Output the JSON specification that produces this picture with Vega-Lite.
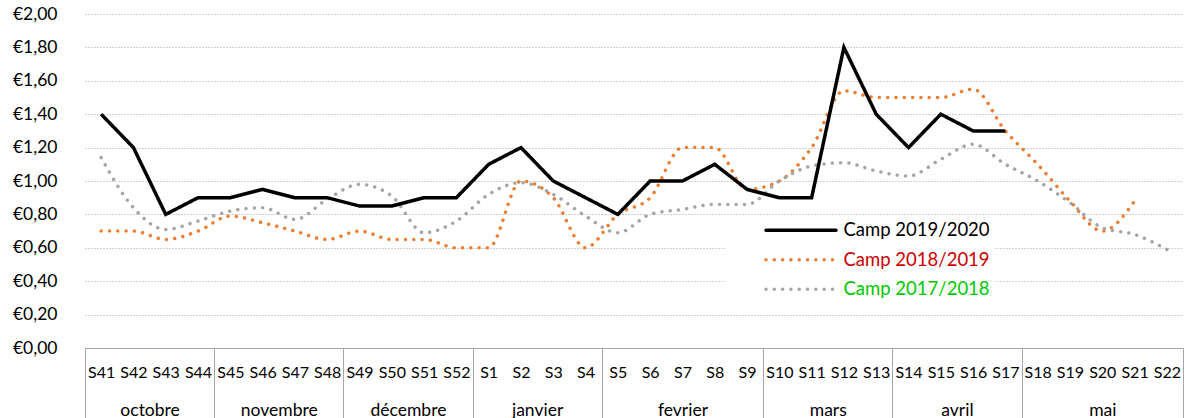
{
  "$schema": "https://vega.github.io/schema/vega-lite/v6.json",
  "width": 1098,
  "height": 334,
  "autosize": {"type": "none"},
  "padding": {"left": 85, "top": 14, "right": 2, "bottom": 70},
  "background": "white",
  "config": {"view": {"stroke": null}, "font": "Lato"},
  "data": {"values": [
    {"idx":0,"week":"S41","series":"Camp 2019/2020","value":1.40},
    {"idx":1,"week":"S42","series":"Camp 2019/2020","value":1.20},
    {"idx":2,"week":"S43","series":"Camp 2019/2020","value":0.80},
    {"idx":3,"week":"S44","series":"Camp 2019/2020","value":0.90},
    {"idx":4,"week":"S45","series":"Camp 2019/2020","value":0.90},
    {"idx":5,"week":"S46","series":"Camp 2019/2020","value":0.95},
    {"idx":6,"week":"S47","series":"Camp 2019/2020","value":0.90},
    {"idx":7,"week":"S48","series":"Camp 2019/2020","value":0.90},
    {"idx":8,"week":"S49","series":"Camp 2019/2020","value":0.85},
    {"idx":9,"week":"S50","series":"Camp 2019/2020","value":0.85},
    {"idx":10,"week":"S51","series":"Camp 2019/2020","value":0.90},
    {"idx":11,"week":"S52","series":"Camp 2019/2020","value":0.90},
    {"idx":12,"week":"S1","series":"Camp 2019/2020","value":1.10},
    {"idx":13,"week":"S2","series":"Camp 2019/2020","value":1.20},
    {"idx":14,"week":"S3","series":"Camp 2019/2020","value":1.00},
    {"idx":15,"week":"S4","series":"Camp 2019/2020","value":0.90},
    {"idx":16,"week":"S5","series":"Camp 2019/2020","value":0.80},
    {"idx":17,"week":"S6","series":"Camp 2019/2020","value":1.00},
    {"idx":18,"week":"S7","series":"Camp 2019/2020","value":1.00},
    {"idx":19,"week":"S8","series":"Camp 2019/2020","value":1.10},
    {"idx":20,"week":"S9","series":"Camp 2019/2020","value":0.95},
    {"idx":21,"week":"S10","series":"Camp 2019/2020","value":0.90},
    {"idx":22,"week":"S11","series":"Camp 2019/2020","value":0.90},
    {"idx":23,"week":"S12","series":"Camp 2019/2020","value":1.80},
    {"idx":24,"week":"S13","series":"Camp 2019/2020","value":1.40},
    {"idx":25,"week":"S14","series":"Camp 2019/2020","value":1.20},
    {"idx":26,"week":"S15","series":"Camp 2019/2020","value":1.40},
    {"idx":27,"week":"S16","series":"Camp 2019/2020","value":1.30},
    {"idx":28,"week":"S17","series":"Camp 2019/2020","value":1.30},

    {"idx":0,"week":"S41","series":"Camp 2018/2019","value":0.70},
    {"idx":1,"week":"S42","series":"Camp 2018/2019","value":0.70},
    {"idx":2,"week":"S43","series":"Camp 2018/2019","value":0.65},
    {"idx":3,"week":"S44","series":"Camp 2018/2019","value":0.70},
    {"idx":4,"week":"S45","series":"Camp 2018/2019","value":0.79},
    {"idx":5,"week":"S46","series":"Camp 2018/2019","value":0.75},
    {"idx":6,"week":"S47","series":"Camp 2018/2019","value":0.70},
    {"idx":7,"week":"S48","series":"Camp 2018/2019","value":0.65},
    {"idx":8,"week":"S49","series":"Camp 2018/2019","value":0.70},
    {"idx":9,"week":"S50","series":"Camp 2018/2019","value":0.65},
    {"idx":10,"week":"S51","series":"Camp 2018/2019","value":0.65},
    {"idx":11,"week":"S52","series":"Camp 2018/2019","value":0.60},
    {"idx":12,"week":"S1","series":"Camp 2018/2019","value":0.60},
    {"idx":13,"week":"S2","series":"Camp 2018/2019","value":1.00},
    {"idx":14,"week":"S3","series":"Camp 2018/2019","value":0.90},
    {"idx":15,"week":"S4","series":"Camp 2018/2019","value":0.60},
    {"idx":16,"week":"S5","series":"Camp 2018/2019","value":0.80},
    {"idx":17,"week":"S6","series":"Camp 2018/2019","value":0.90},
    {"idx":18,"week":"S7","series":"Camp 2018/2019","value":1.20},
    {"idx":19,"week":"S8","series":"Camp 2018/2019","value":1.20},
    {"idx":20,"week":"S9","series":"Camp 2018/2019","value":0.95},
    {"idx":21,"week":"S10","series":"Camp 2018/2019","value":1.00},
    {"idx":22,"week":"S11","series":"Camp 2018/2019","value":1.20},
    {"idx":23,"week":"S12","series":"Camp 2018/2019","value":1.54},
    {"idx":24,"week":"S13","series":"Camp 2018/2019","value":1.50},
    {"idx":25,"week":"S14","series":"Camp 2018/2019","value":1.50},
    {"idx":26,"week":"S15","series":"Camp 2018/2019","value":1.50},
    {"idx":27,"week":"S16","series":"Camp 2018/2019","value":1.55},
    {"idx":28,"week":"S17","series":"Camp 2018/2019","value":1.30},
    {"idx":29,"week":"S18","series":"Camp 2018/2019","value":1.10},
    {"idx":30,"week":"S19","series":"Camp 2018/2019","value":0.88},
    {"idx":31,"week":"S20","series":"Camp 2018/2019","value":0.70},
    {"idx":32,"week":"S21","series":"Camp 2018/2019","value":0.88},

    {"idx":0,"week":"S41","series":"Camp 2017/2018","value":1.14},
    {"idx":1,"week":"S42","series":"Camp 2017/2018","value":0.84},
    {"idx":2,"week":"S43","series":"Camp 2017/2018","value":0.71},
    {"idx":3,"week":"S44","series":"Camp 2017/2018","value":0.76},
    {"idx":4,"week":"S45","series":"Camp 2017/2018","value":0.82},
    {"idx":5,"week":"S46","series":"Camp 2017/2018","value":0.84},
    {"idx":6,"week":"S47","series":"Camp 2017/2018","value":0.77},
    {"idx":7,"week":"S48","series":"Camp 2017/2018","value":0.89},
    {"idx":8,"week":"S49","series":"Camp 2017/2018","value":0.98},
    {"idx":9,"week":"S50","series":"Camp 2017/2018","value":0.91},
    {"idx":10,"week":"S51","series":"Camp 2017/2018","value":0.69},
    {"idx":11,"week":"S52","series":"Camp 2017/2018","value":0.76},
    {"idx":12,"week":"S1","series":"Camp 2017/2018","value":0.92},
    {"idx":13,"week":"S2","series":"Camp 2017/2018","value":0.99},
    {"idx":14,"week":"S3","series":"Camp 2017/2018","value":0.92},
    {"idx":15,"week":"S4","series":"Camp 2017/2018","value":0.79},
    {"idx":16,"week":"S5","series":"Camp 2017/2018","value":0.69},
    {"idx":17,"week":"S6","series":"Camp 2017/2018","value":0.80},
    {"idx":18,"week":"S7","series":"Camp 2017/2018","value":0.83},
    {"idx":19,"week":"S8","series":"Camp 2017/2018","value":0.86},
    {"idx":20,"week":"S9","series":"Camp 2017/2018","value":0.86},
    {"idx":21,"week":"S10","series":"Camp 2017/2018","value":1.00},
    {"idx":22,"week":"S11","series":"Camp 2017/2018","value":1.09},
    {"idx":23,"week":"S12","series":"Camp 2017/2018","value":1.11},
    {"idx":24,"week":"S13","series":"Camp 2017/2018","value":1.06},
    {"idx":25,"week":"S14","series":"Camp 2017/2018","value":1.03},
    {"idx":26,"week":"S15","series":"Camp 2017/2018","value":1.13},
    {"idx":27,"week":"S16","series":"Camp 2017/2018","value":1.22},
    {"idx":28,"week":"S17","series":"Camp 2017/2018","value":1.10},
    {"idx":29,"week":"S18","series":"Camp 2017/2018","value":1.00},
    {"idx":30,"week":"S19","series":"Camp 2017/2018","value":0.87},
    {"idx":31,"week":"S20","series":"Camp 2017/2018","value":0.72},
    {"idx":32,"week":"S21","series":"Camp 2017/2018","value":0.68},
    {"idx":33,"week":"S22","series":"Camp 2017/2018","value":0.59}
  ]},
  "encoding": {
    "y": {
      "field": "value", "type": "quantitative",
      "scale": {"domain": [0, 2], "nice": false},
      "axis": {
        "title": null,
        "values": [0, 0.2, 0.4, 0.6, 0.8, 1.0, 1.2, 1.4, 1.6, 1.8, 2.0],
        "labelExpr": "'€' + replace(format(datum.value, '.2f'), '.', ',')",
        "domain": false, "ticks": false,
        "grid": true, "gridDash": [1, 2], "gridColor": "#A0A0A0", "gridWidth": 1,
        "labelPadding": 28, "labelFontSize": 17.5, "labelColor": "#000000", "labelFont": "Lato"
      }
    },
    "color": {
      "field": "series", "type": "nominal",
      "scale": {"domain": ["Camp 2019/2020", "Camp 2018/2019", "Camp 2017/2018"], "range": ["#000000", "#ED7D31", "#A5A5A5"]},
      "legend": {
        "title": null, "orient": "none", "legendX": 640, "legendY": 202,
        "fillColor": "white", "padding": 5, "clipHeight": 18.5,
        "symbolType": "stroke", "symbolSize": 4900, "symbolStrokeWidth": 3.5, "symbolOffset": 34,
        "labelOffset": 5.5, "labelFontSize": 18.5, "labelFont": "Lato", "rowPadding": 10.5,
        "labelExpr": "datum.label + '       '",
        "encode": {
          "symbols": {"update": {"strokeCap": {"value": "round"}}},
          "labels": {"update": {"fill": {"signal": "datum.value == 'Camp 2018/2019' ? '#CC0000' : datum.value == 'Camp 2017/2018' ? '#00C800' : '#000000'"}}}
        }
      }
    },
    "strokeDash": {
      "field": "series", "type": "nominal",
      "scale": {"domain": ["Camp 2019/2020", "Camp 2018/2019", "Camp 2017/2018"], "range": [[1, 0], [0.01, 8.3], [0.01, 8.3]]},
      "legend": {
        "title": null, "orient": "none", "legendX": 640, "legendY": 202,
        "fillColor": "white", "padding": 5, "clipHeight": 18.5,
        "symbolType": "stroke", "symbolSize": 4900, "symbolStrokeWidth": 3.5, "symbolOffset": 34,
        "labelOffset": 5.5, "labelFontSize": 18.5, "labelFont": "Lato", "rowPadding": 10.5,
        "labelExpr": "datum.label + '       '",
        "encode": {
          "symbols": {"update": {"strokeCap": {"value": "round"}}},
          "labels": {"update": {"fill": {"signal": "datum.value == 'Camp 2018/2019' ? '#CC0000' : datum.value == 'Camp 2017/2018' ? '#00C800' : '#000000'"}}}
        }
      }
    }
  },
  "layer": [
    {
      "transform": [{"filter": "datum.series != 'Camp 2019/2020'"}],
      "mark": {"type": "line", "interpolate": "monotone", "strokeWidth": 3.5, "strokeCap": "round"},
      "encoding": {
        "x": {
          "field": "idx", "type": "quantitative",
          "scale": {"domain": [-0.5, 33.5], "nice": false, "zero": false},
          "axis": {
            "orient": "bottom", "title": null,
            "values": [-0.5, 3.5, 7.5, 11.5, 15.5, 20.5, 24.5, 28.5, 33.5],
            "labelExpr": "['octobre','novembre','décembre','janvier','fevrier','mars','avril','mai',''][indexof([-0.5,3.5,7.5,11.5,15.5,20.5,24.5,28.5,33.5], datum.value)]",
            "labelOffset": {"condition": {"test": "datum.value == 15.5 || datum.value == 28.5", "value": 80.74}, "value": 64.59},
            "labelFlush": false, "labelOverlap": false, "labelBound": false,
            "ticks": true, "tickSize": 70, "tickColor": "#A6A6A6", "tickWidth": 1,
            "domain": false, "grid": false,
            "labelPadding": -8, "labelBaseline": "middle", "labelAlign": "center",
            "labelFontSize": 17.5, "labelColor": "#000000", "labelFont": "Lato"
          }
        }
      }
    },
    {
      "transform": [{"filter": "datum.series == 'Camp 2019/2020'"}],
      "mark": {"type": "line", "interpolate": "linear", "strokeWidth": 3.5, "strokeJoin": "miter"},
      "encoding": {
        "x": {
          "field": "idx", "type": "quantitative",
          "scale": {"domain": [-0.5, 33.5], "nice": false, "zero": false},
          "axis": {
            "orient": "bottom", "title": null,
            "values": [0,1,2,3,4,5,6,7,8,9,10,11,12,13,14,15,16,17,18,19,20,21,22,23,24,25,26,27,28,29,30,31,32,33],
            "labelExpr": "['S41','S42','S43','S44','S45','S46','S47','S48','S49','S50','S51','S52','S1','S2','S3','S4','S5','S6','S7','S8','S9','S10','S11','S12','S13','S14','S15','S16','S17','S18','S19','S20','S21','S22'][datum.value]",
            "labelFlush": false, "labelOverlap": false, "labelBound": false,
            "ticks": false, "tickSize": 0,
            "domain": true, "domainColor": "#A6A6A6", "domainWidth": 1, "grid": false,
            "labelPadding": 24, "labelBaseline": "middle", "labelAlign": "center",
            "labelFontSize": 16, "labelColor": "#000000", "labelFont": "Lato"
          }
        }
      }
    }
  ],
  "resolve": {"axis": {"x": "independent"}}
}
